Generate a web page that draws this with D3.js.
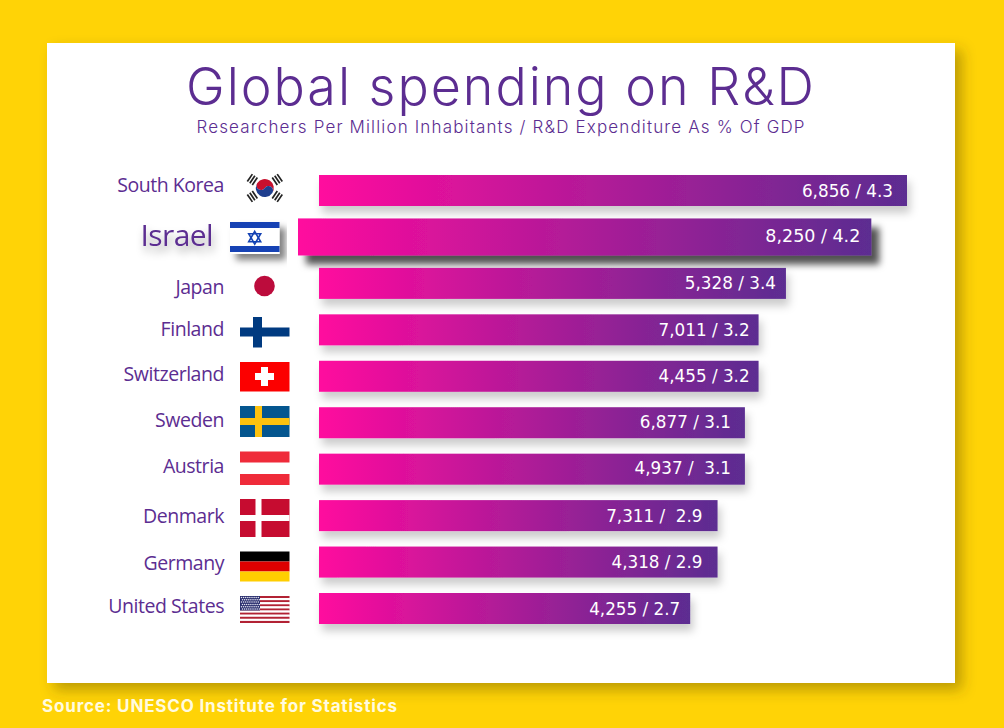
<!DOCTYPE html>
<html><head><meta charset="utf-8">
<script src="https://cdn.jsdelivr.net/npm/d3@7"></script>
<style>html,body{margin:0;padding:0;background:#ffd306;overflow:hidden}svg{display:block}</style>
</head><body><svg id="c" width="1004" height="728"></svg>
<script>
const countries=["South Korea","Israel","Japan","Finland","Switzerland","Sweden","Austria","Denmark","Germany","United States"];
const researchers=["6,856","8,250","5,328","7,011","4,455","6,877","4,937","7,311","4,318","4,255"];
const spending=[4.3,4.2,3.4,3.2,3.2,3.1,3.1,2.9,2.9,2.7];
const valueLabels=["6,856 / 4.3","8,250 / 4.2","5,328 / 3.4","7,011 / 3.2","4,455 / 3.2","6,877 / 3.1","4,937 /  3.1","7,311 /  2.9","4,318 / 2.9","4,255 / 2.7"];
const titleText="Global spending on R&D";
const subtitleText="Researchers Per Million Inhabitants / R&D Expenditure As % Of GDP";
const sourceText="Source: UNESCO Institute for Statistics";

const purple="#5c2d91";
const svg=d3.select("#c");
const defs=svg.append("defs");
const grad=defs.append("linearGradient").attr("id","barGrad");
grad.append("stop").attr("offset","0").attr("stop-color","#ff0a9e");
grad.append("stop").attr("offset","1").attr("stop-color","#5c2d91");
function shadow(id,dx,dy,blur,op,col){
  const f=defs.append("filter").attr("id",id).attr("x","-10%").attr("y","-60%").attr("width","125%").attr("height","260%");
  f.append("feDropShadow").attr("dx",dx).attr("dy",dy).attr("stdDeviation",blur).attr("flood-color",col||"#000").attr("flood-opacity",op);
}
shadow("soft",3,7,4.5,.2);
shadow("hard",8,9,3.5,.68);
shadow("flagS",6,6,3.5,.5);
shadow("textS",2,6,4,.35);
shadow("card",7,7,7,.36,"#4a3a00");

svg.append("rect").attr("width",1004).attr("height",728).attr("fill","#ffd306");
svg.append("rect").attr("x",47).attr("y",43).attr("width",908).attr("height",640).attr("fill","#fff").attr("filter","url(#card)");

svg.append("text").attr("x",500).attr("y",105).attr("text-anchor","middle")
 .attr("font-family","Inter").attr("font-weight",300).attr("font-size",52).attr("fill",purple)
 .attr("textLength",628).attr("lengthAdjust","spacing").text(titleText);
svg.append("text").attr("x",500.5).attr("y",133).attr("text-anchor","middle")
 .attr("font-family","Inter").attr("font-weight",300).attr("font-size",17).attr("fill",purple)
 .attr("textLength",608).attr("lengthAdjust","spacing").text(subtitleText);
svg.append("text").attr("x",42).attr("y",712)
 .attr("font-family","Inter").attr("font-weight",700).attr("font-size",17).attr("fill","#fffbe0")
 .attr("textLength",355).attr("lengthAdjust","spacing").text(sourceText);

const y=d3.scalePoint().domain(countries).range([190.5,608.5]);
const x=d3.scaleLinear().domain([0,4.3]).range([0,588]);
const barX=n=>n==="Israel"?298:319;
const barH=n=>n==="Israel"?37:31;
const barAdj=n=>n==="South Korea"?0:n==="Israel"?-1:2;
const labelDy={"South Korea":-5,"Israel":-1,"Japan":3.5,"Finland":-1,"Switzerland":-2,"Sweden":-3,"Austria":-3,"Denmark":1,"Germany":1,"United States":-2};
const valueDy={"Israel":-1,"Sweden":-1,"Austria":-1};
const valueInset={"South Korea":14,"Israel":11,"Japan":10,"Finland":9,"Switzerland":9,"Sweden":14,"Austria":14,"Denmark":15,"Germany":15,"United States":10};
const rows=countries.map((c,i)=>({c,v:spending[i],r:researchers[i],l:valueLabels[i]}));

svg.append("g").selectAll("rect").data(rows).join("rect")
 .attr("x",d=>barX(d.c)).attr("y",d=>y(d.c)-barH(d.c)/2)
 .attr("width",d=>x(d.v)+barAdj(d.c)).attr("height",d=>barH(d.c))
 .attr("fill","url(#barGrad)")
 .attr("filter",d=>d.c==="Israel"?"url(#hard)":"url(#soft)");

svg.append("g").selectAll("text").data(rows).join("text")
 .attr("x",d=>barX(d.c)+x(d.v)+barAdj(d.c)-valueInset[d.c])
 .attr("y",d=>y(d.c)+(valueDy[d.c]||0)).attr("dy","0.36em")
 .attr("text-anchor","end").attr("xml:space","preserve").style("white-space","pre")
 .attr("font-family","'DejaVu Sans'")
 .attr("font-size",d=>d.c==="Israel"?17.5:16.8).attr("fill","#fff")
 .text(d=>d.l);

svg.append("g").selectAll("text").data(rows).join("text")
 .attr("x",d=>d.c==="Israel"?213:224)
 .attr("y",d=>y(d.c)+labelDy[d.c]).attr("dy","0.35em")
 .attr("text-anchor","end").attr("font-family","'Open Sans'").attr("font-weight",500)
 .attr("font-size",d=>d.c==="Israel"?30:19.5).attr("fill",purple)
 .attr("letter-spacing",d=>d.c==="Israel"?-.6:-.45)
 .attr("filter",d=>d.c==="Israel"?"url(#textS)":null)
 .text(d=>d.c);

/* flags */
function R(g,a,b,w,h,f){return g.append("rect").attr("x",a).attr("y",b).attr("width",w).attr("height",h).attr("fill",f);}
const flags={
 "South Korea"(g){
  const cx=264.8,cy=188,r=9;
  const t=g.append("g").attr("transform",`translate(${cx},${cy}) rotate(33.7)`);
  t.append("path").attr("fill","#c8102e").attr("d",`M${-r},0A${r},${r} 0 0 1 ${r},0A${r/2},${r/2} 0 0 0 0,0A${r/2},${r/2} 0 0 1 ${-r},0Z`);
  t.append("path").attr("fill","#1f3f8f").attr("d",`M${-r},0A${r},${r} 0 0 0 ${r},0A${r/2},${r/2} 0 0 0 0,0A${r/2},${r/2} 0 0 1 ${-r},0Z`);
  [[-1,-1],[1,-1],[-1,1],[1,1]].forEach(([sx,sy])=>{
    const ang=Math.atan2(sy*8.5,sx*12.5)*180/Math.PI;
    const tg=g.append("g").attr("transform",`translate(${cx+sx*12.5},${cy+sy*8.5}) rotate(${ang+90})`);
    [-3,0,3].forEach(o=>R(tg,-4.5,o-.8,9,1.7,"#222"));
  });
 },
 "Israel"(g){
  const G=g.append("g").attr("filter","url(#flagS)");
  R(G,230,222,49.5,32,"#fff");
  R(G,230,222,49.5,6,"#1243b4");R(G,230,246,49.5,6,"#1243b4");
  const tri=d3.symbol().type(d3.symbolTriangle).size(62);
  G.append("path").attr("d",tri()).attr("transform","translate(254.7,238.3)").attr("fill","none").attr("stroke","#1243b4").attr("stroke-width",1.6);
  G.append("path").attr("d",tri()).attr("transform","translate(254.7,237.2) rotate(180)").attr("fill","none").attr("stroke","#1243b4").attr("stroke-width",1.6);
 },
 "Japan"(g){g.append("circle").attr("cx",264.5).attr("cy",286).attr("r",10.3).attr("fill","#bc0c3c");},
 "Finland"(g){R(g,240,327.5,49.5,9,"#003a80");R(g,253,317,9,30.5,"#003a80");},
 "Switzerland"(g){R(g,240,362,49.5,29.5,"#fc0000");R(g,255,373,19,7,"#fff");R(g,261,367,7,19,"#fff");},
 "Sweden"(g){R(g,240,406,49.5,31,"#04568f");R(g,240,418,49.5,7,"#fdc20e");R(g,255,406,7,31,"#fdc20e");},
 "Austria"(g){R(g,240,451.5,49.5,33.5,"#fff");R(g,240,451.5,49.5,11,"#ef2b3a");R(g,240,474,49.5,11,"#ef2b3a");},
 "Denmark"(g){R(g,240,499,49.5,38,"#c60c30");R(g,255.5,499,6,38,"#fff");R(g,240,515,49.5,6,"#fff");},
 "Germany"(g){R(g,240,551.5,49.5,10,"#000");R(g,240,561.5,49.5,10,"#dd0000");R(g,240,571.5,49.5,10,"#ffce00");},
 "United States"(g){
  const s=d3.scaleBand().domain(d3.range(13)).range([596,623]);
  g.selectAll("rect.s").data(d3.range(13)).join("rect").attr("class","s")
   .attr("x",240).attr("y",d=>s(d)).attr("width",49.5).attr("height",s.bandwidth())
   .attr("fill",d=>d%2?"#fff":"#b22234");
  R(g,240,596,20,14.5,"#2a2f6e");
  const dots=[];for(let i=0;i<9;i++)for(let j=0;j<6;j++)dots.push([241.5+i*2.1+(j%2),597.5+j*2.3]);
  g.selectAll("circle").data(dots).join("circle").attr("cx",d=>d[0]).attr("cy",d=>d[1]).attr("r",.75).attr("fill","#e8e8f4");
 }
};
const fg=svg.append("g");
countries.forEach(c=>flags[c](fg.append("g").attr("class","flag")));
</script></body></html>
